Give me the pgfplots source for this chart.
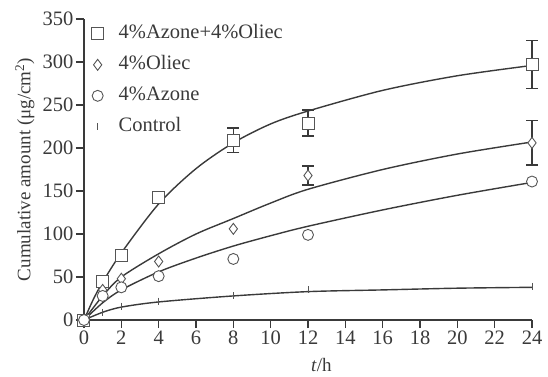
\documentclass[border=0pt]{standalone}
\usepackage{pgfplots}
\pgfplotsset{compat=1.18}
\usepackage{fontspec}
\setmainfont{Liberation Serif}
\definecolor{ink}{HTML}{3A3A3A}
\definecolor{mk}{HTML}{555555}
\begin{document}
\begin{tikzpicture}
\path[use as bounding box] (-84pt,-56pt) rectangle (464pt,320pt);
\begin{axis}[
  scale only axis, width=448pt, height=301pt,
  xmin=0, xmax=24, ymin=0, ymax=350,
  axis x line=bottom, axis y line=left,
  axis line style={-, ink, line width=1.8pt},
  tick align=outside, major tick length=8pt,
  tick style={ink, line width=1.5pt},
  xtick={0,2,...,24}, ytick={0,50,...,350},
  /pgf/number format/assume math mode=true,
  tick label style={font=\fontsize{20.5}{22}\selectfont, text=ink},
  xticklabel style={yshift=1pt},
  yticklabel style={xshift=1pt},
  xlabel={\textit{t}/h}, ylabel={Cumulative amount (μg/cm\textsuperscript{2})},
  label style={font=\fontsize{19}{21}\selectfont, text=ink},
  xlabel style={at={(axis description cs:0.53,-0.15)}, anchor=center},
  ylabel style={at={(axis description cs:-0.132,0.5)}, anchor=center},
  clip=false,
  legend style={draw=none, fill=none, at={(axis description cs:0.0167,0.983)}, anchor=north west,
    font=\fontsize{20.5}{22}\selectfont, text=ink, row sep=12pt, column sep=15pt,
    inner sep=0pt,
    nodes={inner sep=0pt, text height=14pt, text depth=5pt}},
  legend cell align=left,
]
% fitted curves
\addplot[ink, line width=1.4pt, smooth, forget plot] coordinates {
 (0,0) (0.5,24) (1,44) (2,78) (4,135) (6,176) (8,206) (10,228) (12,243) (16,267) (20,284) (24,296)};
\addplot[ink, line width=1.4pt, smooth, forget plot] coordinates {
 (0,0) (1,28) (2,50) (4,77) (6,100) (8,118) (10,136) (12,152) (16,175) (20,193) (24,207)};
\addplot[ink, line width=1.4pt, smooth, forget plot] coordinates {
 (0,0) (1,20) (2,35) (4,56) (6,72) (8,86) (10,98) (12,109) (16,128) (20,145) (24,160)};
\addplot[ink, line width=1.4pt, smooth, forget plot] coordinates {
 (0,0) (1,9) (2,15) (4,21) (8,28) (12,33) (16,35) (20,37) (24,38)};
% data
\addplot[only marks, mark=square*, mark size=6pt, mark options={fill=white, draw=mk, line width=1pt},
  error bars/.cd, y dir=both, y explicit, error bar style={ink, line width=1.6pt},
  error mark options={rotate=90, mark size=6pt, ink, line width=1.6pt}]
  coordinates {(0,0) (1,45) (2,75) (4,143) (8,209) +- (0,14) (12,229) +- (0,15) (24,297) +- (0,28)};
\addlegendentry{4\%Azone+4\%Oliec}
\addplot[only marks, mark=diamond*, mark size=5.5pt, mark options={fill=white, draw=mk, line width=0.9pt},
  error bars/.cd, y dir=both, y explicit, error bar style={ink, line width=1.6pt},
  error mark options={rotate=90, mark size=6pt, ink, line width=1.6pt}]
  coordinates {(0,0) (1,35) (2,48) (4,68) (8,106) (12,168) +- (0,11) (24,206) +- (0,26)};
\addlegendentry{4\%Oliec}
\addplot[only marks, mark=*, mark size=5.5pt, mark options={fill=white, draw=mk, line width=0.9pt}]
  coordinates {(0,0) (1,28) (2,38) (4,51) (8,71) (12,99) (24,161)};
\addlegendentry{4\%Azone}
\addplot[only marks, mark=|, mark size=3.5pt, mark options={draw=mk, line width=1pt}]
  coordinates {(1,9) (2,16) (4,22) (8,28) (12,35) (24,39)};
\addlegendentry{Control}
\end{axis}
\end{tikzpicture}
\end{document}
